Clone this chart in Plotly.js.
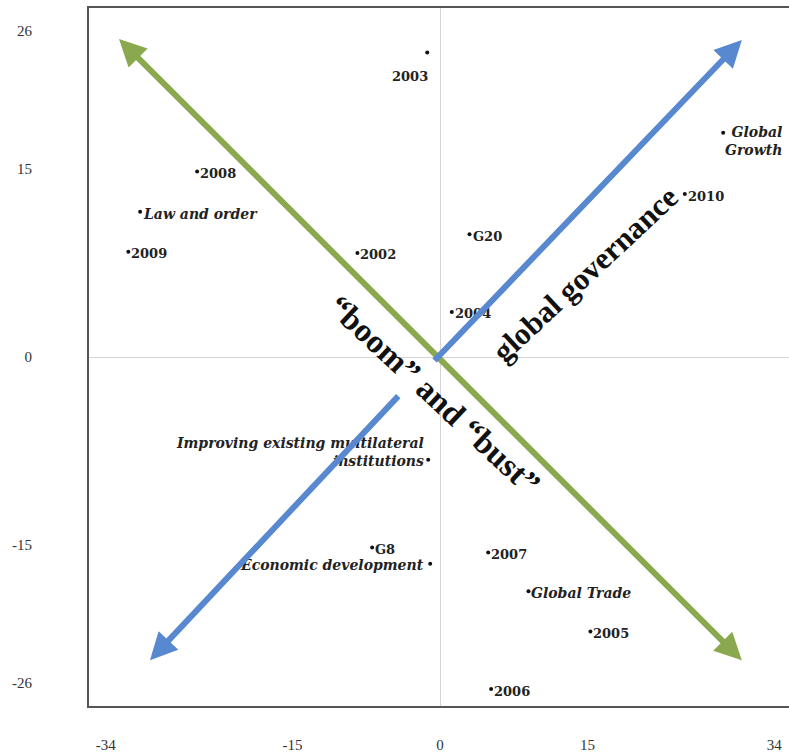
<!DOCTYPE html>
<html><head><meta charset="utf-8">
<script src="https://cdn.plot.ly/plotly-3.0.1.min.js"></script>
<style>html,body{margin:0;padding:0;overflow:hidden;background:#fff}</style>
</head><body><div id="chart" style="width:800px;height:755px"></div>
<script>
// ---- data ----
const pointLabels = ['2003','2008','Law and order','2009','2002','G20','2004','Global Growth','2010',
  'Improving existing multilateral institutions','G8','Economic development','2007','Global Trade','2005','2006'];
const pointX = [-1.3, -24.7, -30.5, -31.7, -8.4, 3.0, 1.2, 28.8, 24.9, -1.2, -6.9, -1.0, 4.9, 9.0, 15.3, 5.2];
const pointY = [24.3, 14.8, 11.6, 8.4, 8.3, 9.8, 3.6, 17.9, 13.0, -8.2, -15.2, -16.5, -15.6, -18.7, -21.9, -26.5];
const italicLabels = ['Law and order','Global Growth','Improving existing multilateral institutions','Economic development','Global Trade'];
const xTicks = [-34, -15, 0, 15, 34];
const yTicks = [26, 15, 0, -15, -26];
const greenArrowX = [-32.8, 30.7];
const greenArrowY = [25.5, -24.2];
const blueUpperX = [-0.7, 30.7];
const blueUpperY = [-0.4, 25.3];
const blueLowerX = [-4.1, -29.5];
const blueLowerY = [-3.0, -24.2];
const bigLabels = ['global governance', '\u201cboom\u201d and \u201cbust\u201d'];
const bigLabelX = [14.7, -0.6];
const bigLabelY = [6.6, -3.0];

// ---- styling / placement ----
const labelFont = {family: 'DejaVu Serif', size: 13, color: '#222'};
const italicFont = {family: 'DejaVu Serif', size: 14, color: '#222'};
const displayText = {
  'Global Growth': 'Global<br>Growth',
  'Improving existing multilateral institutions': 'Improving existing multilateral<br>institutions'
};
const placement = {
  '2003': {xanchor: 'right', yanchor: 'top', xshift: 3, yshift: -15},
  'Global Growth': {xanchor: 'left', yanchor: 'top', xshift: 0, yshift: 11, align: 'right'},
  'Improving existing multilateral institutions': {xanchor: 'right', yanchor: 'bottom', xshift: -2, yshift: -11, align: 'right'},
  'Economic development': {xanchor: 'right', yanchor: 'middle', xshift: -4, yshift: -1}
};
const annotations = [];
pointLabels.forEach((lab, i) => {
  const p = placement[lab] || {xanchor: 'left', yanchor: 'middle', xshift: 1, yshift: -2};
  const it = italicLabels.includes(lab);
  let t = displayText[lab] || lab;
  if (it) t = '<i>' + t + '</i>';
  t = '<b>' + t + '</b>';
  annotations.push(Object.assign({x: pointX[i], y: pointY[i], xref: 'x', yref: 'y', text: t,
    showarrow: false, font: it ? italicFont : labelFont, align: p.align || 'left'}, p));
});
function arrow(xs, ys, color, both) {
  return {x: xs[1], y: ys[1], ax: xs[0], ay: ys[0], xref: 'x', yref: 'y', axref: 'x', ayref: 'y',
    text: '', showarrow: true, arrowhead: 2, startarrowhead: 2, arrowside: both ? 'end+start' : 'end',
    arrowwidth: 6, arrowsize: 0.9, startarrowsize: 0.9, arrowcolor: color};
}
annotations.push(arrow(greenArrowX, greenArrowY, '#8aa84e', true));
annotations.push(arrow(blueUpperX, blueUpperY, '#5888d0', false));
annotations.push(arrow(blueLowerX, blueLowerY, '#5888d0', false));
const bigAngles = [-43, 43];
const bigSizes = [31, 33];
bigLabels.forEach((lab, i) => {
  annotations.push({x: bigLabelX[i], y: bigLabelY[i], xref: 'x', yref: 'y', text: '<b>' + lab + '</b>',
    showarrow: false, textangle: bigAngles[i], font: {family: 'Liberation Serif', size: bigSizes[i], color: '#111'}});
});

const trace = {x: pointX, y: pointY, mode: 'markers', type: 'scatter',
  marker: {size: 4, color: '#111'}, hoverinfo: 'skip', showlegend: false};

const layout = {
  width: 800, height: 755,
  margin: {l: 89, r: 9, t: 8, b: 49},
  paper_bgcolor: '#fff', plot_bgcolor: '#fff',
  showlegend: false,
  xaxis: {range: [-35.7, 35.7], tickvals: xTicks, ticktext: xTicks.map(String), showgrid: false,
    zeroline: true, zerolinecolor: '#d4d4d4', zerolinewidth: 1,
    showline: true, mirror: true, linecolor: '#555', linewidth: 2,
    ticks: 'outside', ticklen: 24, tickcolor: 'rgba(0,0,0,0)',
    tickfont: {family: 'Liberation Serif', size: 15, color: '#333'}, fixedrange: true},
  yaxis: {range: [-27.85, 27.85], tickvals: yTicks, ticktext: yTicks.map(String), showgrid: false,
    zeroline: true, zerolinecolor: '#d4d4d4', zerolinewidth: 1,
    showline: true, mirror: true, linecolor: '#555', linewidth: 2,
    ticks: 'outside', ticklen: 52, tickcolor: 'rgba(0,0,0,0)',
    tickfont: {family: 'Liberation Serif', size: 15, color: '#333'}, fixedrange: true},
  annotations: annotations
};
Plotly.newPlot('chart', [trace], layout, {displayModeBar: false, staticPlot: true});
</script></body></html>
